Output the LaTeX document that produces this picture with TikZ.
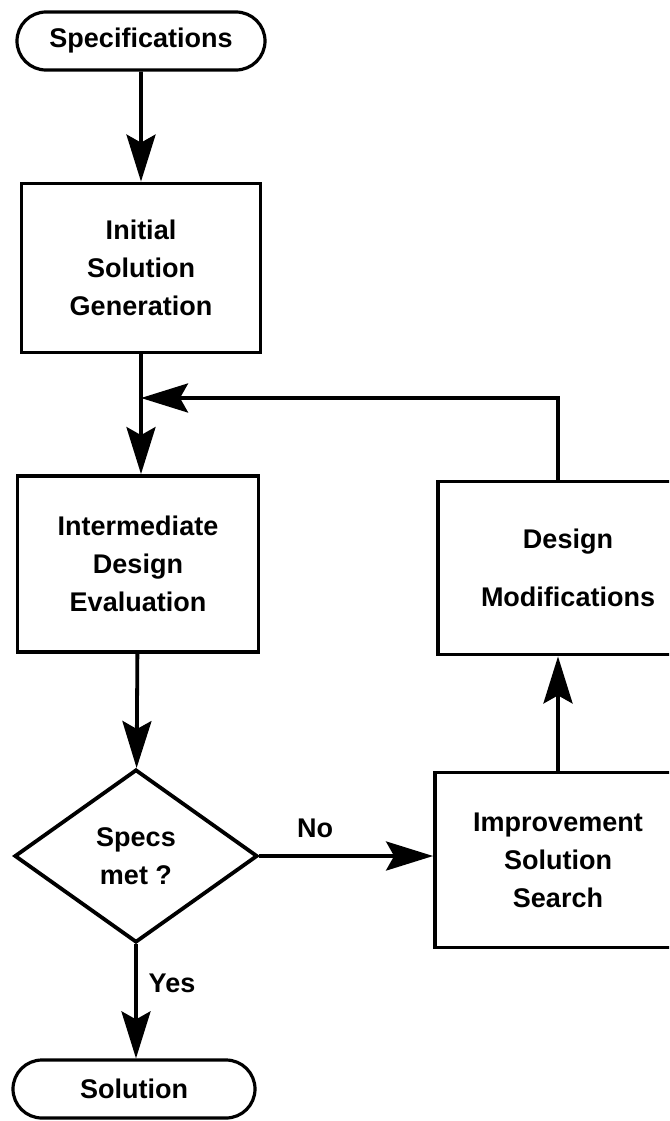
\documentclass[tikz,border=0pt]{standalone}
\usepackage{fontspec}
\setmainfont{Liberation Sans}
\usepackage{tikz}
\usetikzlibrary{arrows.meta, shapes}

\begin{document}
\begin{tikzpicture}[x=1pt, y=-1pt,
  every node/.style={font=\bfseries\fontsize{27}{38}\selectfont, align=center},
  box/.style={draw, line width=3.8pt, inner sep=0pt},
  term/.style={draw, rounded rectangle, line width=3.2pt, minimum height=58pt, inner sep=0pt},
  decision/.style={draw, diamond, line width=3.8pt, aspect=1.4, inner sep=0pt},
  arr/.style={line width=3.8pt, -{Stealth[length=47pt, width=29pt, inset=8pt]}}]
\path[use as bounding box, clip] (0,0) rectangle (669,1121);

% Left column
\node[term, minimum width=248pt] (spec) at (141,41) {Specifications};
\node[box, minimum width=239pt, minimum height=169pt] (init) at (141,268) {Initial\\Solution\\Generation};
\node[box, minimum width=241pt, minimum height=176pt] (inter) at (138,564) {Intermediate\\Design\\Evaluation};
\node[decision, minimum width=243pt, minimum height=173pt] (dec) at (136,856) {Specs\\met ?};
\node[term, minimum width=242pt] (sol) at (134,1089) {Solution};

% Right column
\node[box, minimum width=260pt, minimum height=173pt] (dm) at (568,568) {Design\\[20pt]Modifications};
\node[box, minimum width=246pt, minimum height=175pt] (imp) at (558,860) {Improvement\\Solution\\Search};

% Labels
\node (no) at (315,828) {No};
\node (yes) at (172,983) {Yes};

% Flow
\coordinate (join) at (141,398);
\draw[arr] (spec) -- (init);
\draw[arr] (init.south) -- (init.south |- inter.north);
\draw[arr] (inter) -- (dec);
\draw[arr] (dec.south) -- (dec.south |- sol.north);
\draw[arr] (dec.east) -- (dec.east -| imp.west);
\draw[arr] (imp.north) -- (imp.north |- dm.south);
\draw[arr] (dm.north -| imp.north) |- (join);
\end{tikzpicture}
\end{document}
